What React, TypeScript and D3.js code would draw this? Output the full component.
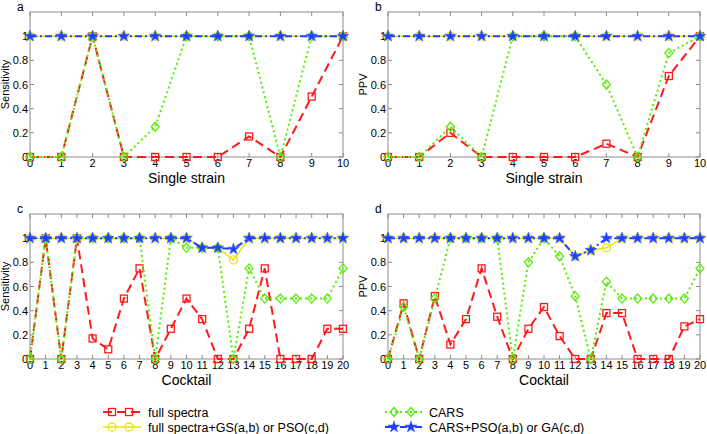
import { useRef, useEffect } from "react";
import * as d3 from "d3";

// panel a: sensitivity, single strain
const strainX = [0, 1, 2, 3, 4, 5, 6, 7, 8, 9, 10];
const aFull = [0, 0, 1, 0, 0, 0, 0, 0.17, 0, 0.5, 1];
const aFullGS = [1, 1, 1, 1, 1, 1, 1, 1, 1, 1, 1];
const aCars = [0, 0, 1, 0, 0.25, 1, 1, 1, 0, 1, 1];
const aCarsPSO = [1, 1, 1, 1, 1, 1, 1, 1, 1, 1, 1];

// panel b: PPV, single strain
const bFull = [0, 0, 0.2, 0, 0, 0, 0, 0.11, 0, 0.67, 1];
const bFullGS = [1, 1, 1, 1, 1, 1, 1, 1, 1, 1, 1];
const bCars = [0, 0, 0.25, 0, 1, 1, 1, 0.6, 0, 0.86, 1];
const bCarsPSO = [1, 1, 1, 1, 1, 1, 1, 1, 1, 1, 1];

// panel c: sensitivity, cocktail
const cocktailX = d3.range(0, 21);
const cFull = [0, 1, 0, 1, 0.17, 0.08, 0.5, 0.75, 0, 0.25, 0.5, 0.33, 0, 0, 0.25, 0.75, 0, 0, 0, 0.25, 0.25];
const cFullPSO = [1, 1, 1, 1, 1, 1, 1, 1, 1, 1, 1, 0.92, 0.92, 0.82, 1, 1, 1, 1, 1, 1, 1];
const cCars = [0, 1, 0, 1, 1, 1, 1, 1, 0, 1, 0.92, 0.92, 0.92, 0, 0.75, 0.5, 0.5, 0.5, 0.5, 0.5, 0.75];
const cCarsGA = [1, 1, 1, 1, 1, 1, 1, 1, 1, 1, 1, 0.92, 0.92, 0.91, 1, 1, 1, 1, 1, 1, 1];

// panel d: PPV, cocktail
const dFull = [0, 0.46, 0, 0.52, 0.12, 0.33, 0.75, 0.35, 0, 0.25, 0.43, 0.19, 0, 0, 0.38, 0.38, 0, 0, 0, 0.27, 0.33];
const dFullPSO = [1, 1, 1, 1, 1, 1, 1, 1, 1, 1, 1, 1, 0.85, 0.9, 0.92, 1, 1, 1, 1, 1, 1];
const dCars = [0, 0.43, 0, 0.5, 1, 1, 1, 1, 0, 0.8, 1, 0.85, 0.52, 0, 0.64, 0.5, 0.5, 0.5, 0.5, 0.5, 0.75];
const dCarsGA = [1, 1, 1, 1, 1, 1, 1, 1, 1, 1, 1, 1, 0.85, 0.9, 1, 1, 1, 1, 1, 1, 1];

const yTicks = [0, 0.2, 0.4, 0.6, 0.8, 1];
const legendNames = [
  "full spectra",
  "full spectra+GS(a,b) or PSO(c,d)",
  "CARS",
  "CARS+PSO(a,b) or GA(c,d)",
];

const styles = [
  { color: "#ff1a1a", dash: "9,5", width: 2, marker: "square" },
  { color: "#e6e600", dash: null, width: 1.5, marker: "circle" },
  { color: "#55ee00", dash: "2,3", width: 2, marker: "diamond" },
  { color: "#1f3fff", dash: "7,3,2,3", width: 2, marker: "star" },
];

const font = "Liberation Sans, Arial, sans-serif";

const App = () => {
  const svgRef = useRef(null);

  useEffect(() => {
    const svg = d3.select(svgRef.current);
    svg.selectAll("*").remove();

    const panels = [
      { letter: "a", x: strainX, series: [aFull, aFullGS, aCars, aCarsPSO], ylab: "Sensitivity", xlab: "Single strain", box: [30, 12, 343, 157] },
      { letter: "b", x: strainX, series: [bFull, bFullGS, bCars, bCarsPSO], ylab: "PPV", xlab: "Single strain", box: [388, 12, 700, 157] },
      { letter: "c", x: cocktailX, series: [cFull, cFullPSO, cCars, cCarsGA], ylab: "Sensitivity", xlab: "Cocktail", box: [30, 214, 343, 359] },
      { letter: "d", x: cocktailX, series: [dFull, dFullPSO, dCars, dCarsGA], ylab: "PPV", xlab: "Cocktail", box: [388, 214, 700, 359] },
    ];

    const drawMarker = (g, type, x, y, color) => {
      if (type === "square") {
        g.append("rect").attr("x", x - 3.5).attr("y", y - 3.5).attr("width", 7).attr("height", 7)
          .attr("fill", "none").attr("stroke", color).attr("stroke-width", 1.3);
      } else if (type === "circle") {
        g.append("circle").attr("cx", x).attr("cy", y).attr("r", 4)
          .attr("fill", "none").attr("stroke", color).attr("stroke-width", 1.3);
      } else if (type === "diamond") {
        g.append("path").attr("d", `M${x},${y - 4.5}L${x + 4},${y}L${x},${y + 4.5}L${x - 4},${y}Z`)
          .attr("fill", "none").attr("stroke", color).attr("stroke-width", 1.3);
      } else {
        g.append("path").attr("d", d3.symbol(d3.symbolStar, 42)())
          .attr("transform", `translate(${x},${y})`)
          .attr("fill", color).attr("stroke", "#3a5cff").attr("stroke-width", 0.6);
      }
    };

    panels.forEach((p) => {
      const [x0, y0, x1, y1] = p.box;
      const xs = d3.scaleLinear().domain([0, p.x[p.x.length - 1]]).range([x0, x1]);
      const ys = d3.scaleLinear().domain([0, 1.2]).range([y1, y0]);
      const g = svg.append("g");

      g.append("rect").attr("x", x0).attr("y", y0).attr("width", x1 - x0).attr("height", y1 - y0)
        .attr("fill", "white").attr("stroke", "#8c8c8c").attr("stroke-width", 1);

      // ticks inside the box, both sides
      yTicks.forEach((t) => {
        const yy = ys(t);
        g.append("line").attr("x1", x0).attr("x2", x0 + 4).attr("y1", yy).attr("y2", yy).attr("stroke", "#8c8c8c");
        g.append("line").attr("x1", x1).attr("x2", x1 - 4).attr("y1", yy).attr("y2", yy).attr("stroke", "#8c8c8c");
        g.append("text").attr("x", x0 - 2).attr("y", yy + 4).attr("text-anchor", "end")
          .attr("font-family", font).attr("font-size", 11).text(t === 0 ? "0" : t === 1 ? "1" : d3.format(".1f")(t));
      });
      p.x.forEach((t) => {
        const xx = xs(t);
        g.append("line").attr("x1", xx).attr("x2", xx).attr("y1", y1).attr("y2", y1 - 4).attr("stroke", "#8c8c8c");
        g.append("line").attr("x1", xx).attr("x2", xx).attr("y1", y0).attr("y2", y0 + 4).attr("stroke", "#8c8c8c");
        g.append("text").attr("x", xx).attr("y", y1 + 10).attr("text-anchor", "middle")
          .attr("font-family", font).attr("font-size", 11).text(t);
      });

      g.append("text").attr("x", (x0 + x1) / 2).attr("y", y1 + 26).attr("text-anchor", "middle")
        .attr("font-family", font).attr("font-size", 14).text(p.xlab);
      g.append("text").attr("transform", `translate(${x0 - 21},${(y0 + y1) / 2}) rotate(-90)`)
        .attr("text-anchor", "middle").attr("font-family", font).attr("font-size", 11).text(p.ylab);
      g.append("text").attr("x", x0 - 13).attr("y", y0 - 1).attr("font-family", font).attr("font-size", 12).text(p.letter);

      const line = d3.line().x((d, i) => xs(p.x[i])).y((d) => ys(d));
      p.series.forEach((s, k) => {
        const st = styles[k];
        g.append("path").attr("d", line(s)).attr("fill", "none").attr("stroke", st.color)
          .attr("stroke-width", st.width).attr("stroke-dasharray", st.dash);
        s.forEach((v, i) => drawMarker(g, st.marker, xs(p.x[i]), ys(v), st.color));
      });
    });

    // legend
    const legendPos = [[103, 412], [103, 427], [385, 412], [385, 427]];
    legendNames.forEach((name, k) => {
      const st = styles[k];
      const [lx, ly] = legendPos[k];
      const g = svg.append("g");
      g.append("line").attr("x1", lx).attr("x2", lx + 38).attr("y1", ly).attr("y2", ly)
        .attr("stroke", st.color).attr("stroke-width", st.width).attr("stroke-dasharray", st.dash);
      drawMarker(g, st.marker, lx + 9, ly, st.color);
      drawMarker(g, st.marker, lx + 26, ly, st.color);
      g.append("text").attr("x", lx + (k < 2 ? 45 : 44)).attr("y", ly + 4.5).attr("font-family", font)
        .attr("font-size", 12.5).text(name);
    });
  }, []);

  return (
    <svg ref={svgRef} width={707} height={434} style={{ position: "absolute", left: 0, top: 0, background: "white" }}></svg>
  );
};

export default App;
